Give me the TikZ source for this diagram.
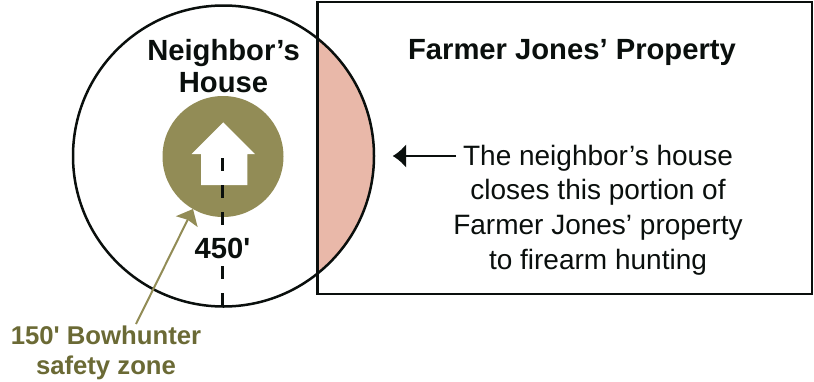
\documentclass[tikz,border=0pt]{standalone}
\usepackage{fontspec}
\setmainfont{Liberation Sans}
\newfontfamily\straightfont{Liberation Sans}
\usetikzlibrary{arrows.meta}
\definecolor{olivefill}{HTML}{928C56}
\definecolor{olivetext}{HTML}{6B6A35}
\definecolor{pinkfill}{HTML}{E9B8A9}
\definecolor{inkc}{HTML}{0A0F0D}
\tikzset{
  x=1pt,y=-1pt,
  headb/.style={font=\bfseries\fontsize{29.2}{32}\selectfont,text=inkc,align=center,inner sep=0pt},
  bodyt/.style={font=\fontsize{28}{34.7}\selectfont,text=inkc,inner sep=0pt,align=center},
  zonet/.style={font=\straightfont\bfseries\fontsize{25.7}{30.5}\selectfont,text=olivetext,align=center,inner sep=0pt},
  outline/.style={draw=inkc,line width=2.5pt,outer sep=0pt},
  dashline/.style={draw=inkc,line width=3pt,dash pattern=on 13pt off 14pt},
}
\begin{document}
\begin{tikzpicture}
\useasboundingbox (0,0) rectangle (814,381);
\fill[white] (0,0) rectangle (814,381);
\begin{scope}
  \clip (317.5,2) rectangle (812,294);
  \fill[pinkfill] (223.5,156) circle[radius=150.5];
\end{scope}
\node[outline,circle,minimum size=301pt,inner sep=0pt] (outer) at (223.5,156) {};
\node[outline,rectangle,minimum width=494.5pt,minimum height=292pt,inner sep=0pt,anchor=north west] (prop) at (317.5,2) {};
\node[circle,fill=olivefill,minimum size=121pt,inner sep=0pt,outer sep=0pt] (zone) at (223,156.5) {};
\fill[white] (223.3,122.3) -- (255,154) -- (247.3,154) -- (247.3,185) -- (201,185) -- (201,154) -- (191.7,154) -- cycle;
\coordinate (dashtop) at (222.7,158);
\coordinate (dashbot) at (222.7,306);
\draw[dashline] (dashtop) -- (dashbot);
\node[headb,font=\straightfont\bfseries\fontsize{29.2}{32}\selectfont,fill=white,inner xsep=2pt,inner ysep=3pt] (dist) at (222.5,248) {450'};
\node[headb] (hname) at (223.5,66) {Neighbor's\\House};
\node[headb] (ptitle) at (572,52) {Farmer Jones' Property};
\node[bodyt] (note) at (598,210) {The neighbor's house\\closes this portion of\\Farmer Jones' property\\to firearm hunting};
\coordinate (notetip) at (392.7,156);
\coordinate (notestart) at (456,156);
\draw[draw=inkc,line width=2pt,-{Latex[length=13.5pt,width=24pt]}] (notestart) -- (notetip);
\node[zonet] (zlabel) at (106,353) {150' Bowhunter\\safety zone};
\coordinate (zstart) at (136,324);
\coordinate (ztip) at (193,209);
\draw[draw=olivefill,line width=2pt,-{Stealth[length=14pt,width=24pt,inset=2pt]}] (zstart) -- (ztip);
\end{tikzpicture}
\end{document}
